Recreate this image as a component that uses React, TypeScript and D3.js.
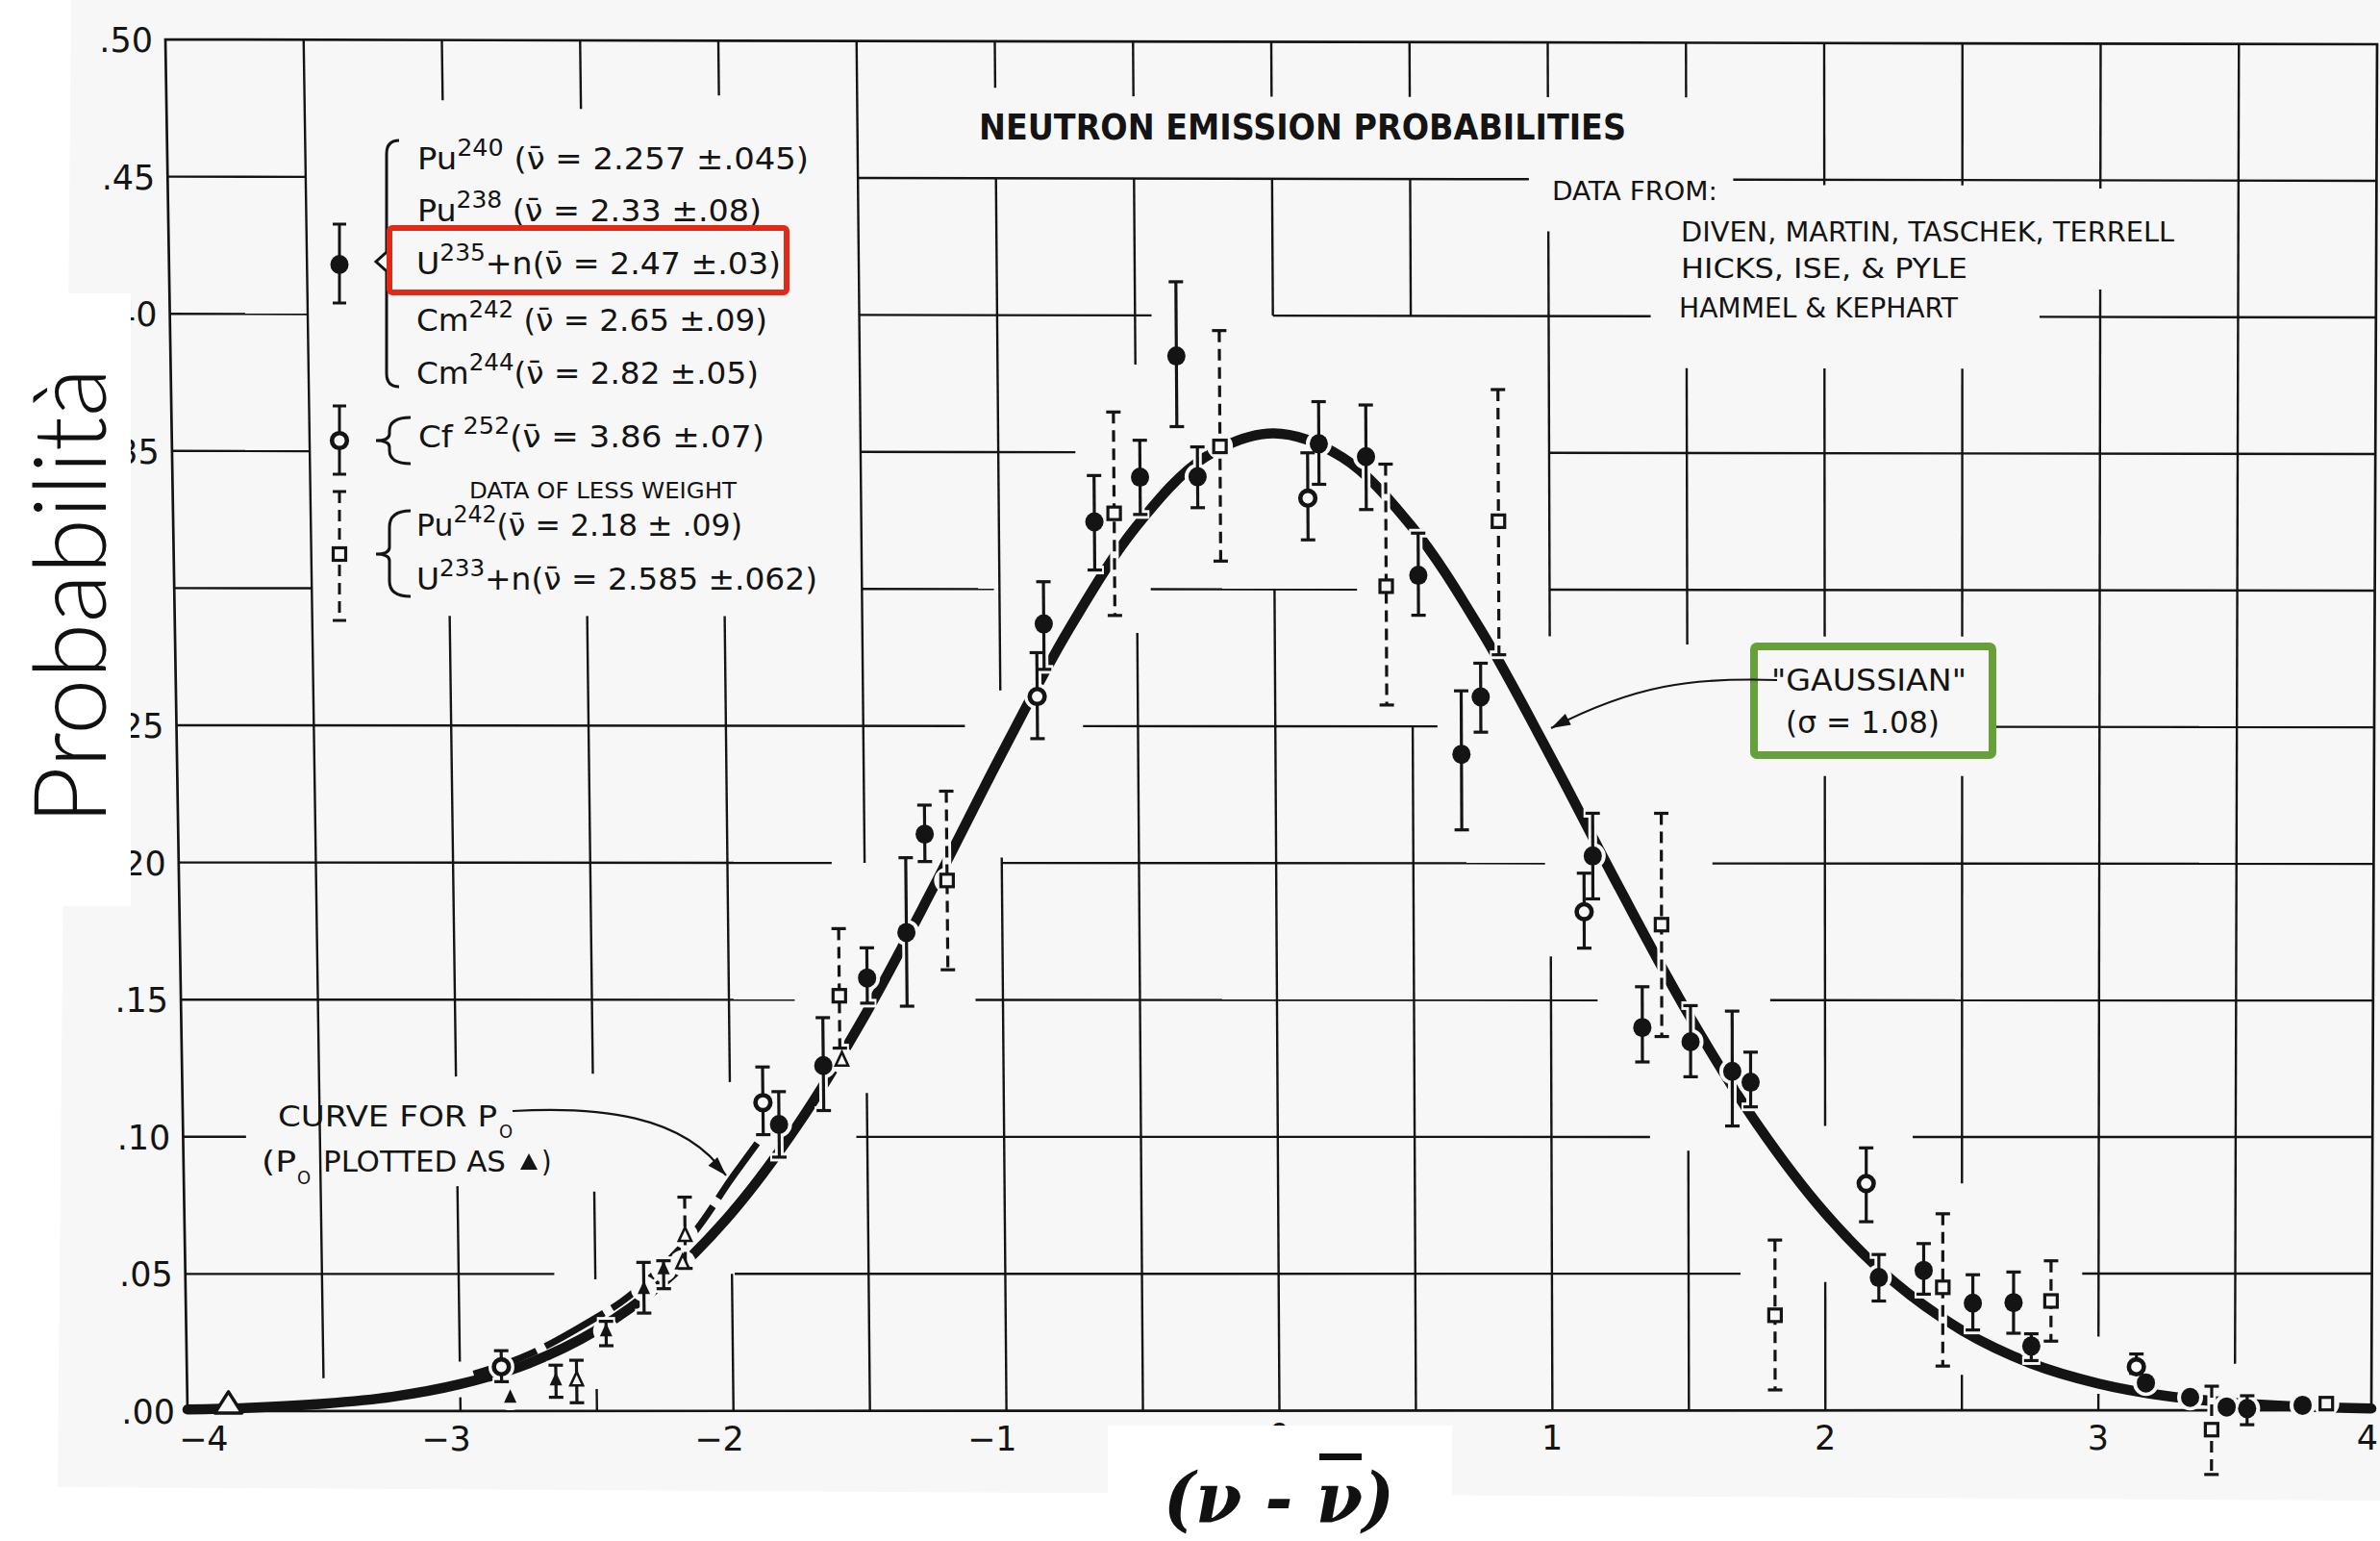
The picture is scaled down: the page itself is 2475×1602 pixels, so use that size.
import React from "react";
import * as d3 from "d3";

const W = 2475;
const H = 1602;
const PAPER = "#f7f7f7";
const INK = "#141414";

// ---------- data ----------
const curveX = [-4, -3.75, -3.5, -3.25, -3, -2.75, -2.5, -2.25, -2, -1.75, -1.5, -1.25, -1, -0.75, -0.5, -0.25, 0, 0.25, 0.5, 0.75, 1, 1.25, 1.5, 1.75, 2, 2.25, 2.5, 2.75, 3, 3.25, 3.5, 3.75, 4];
const gaussianY = [0.0006, 0.0013, 0.0027, 0.0052, 0.0098, 0.0173, 0.0293, 0.0471, 0.0721, 0.1049, 0.1451, 0.1911, 0.2393, 0.2851, 0.323, 0.3482, 0.357, 0.3482, 0.323, 0.2851, 0.2393, 0.1911, 0.1451, 0.1049, 0.0721, 0.0471, 0.0293, 0.0173, 0.0098, 0.0052, 0.0027, 0.0013, 0.0006];

const p0CurveX = [-2.95, -2.75, -2.5, -2.38, -2.15, -2.0, -1.9];
const p0CurveY = [0.0135, 0.0205, 0.034, 0.0417, 0.0635, 0.0845, 0.098];

// [x, y, low, high]
const heavyPoints = [
  [-1.822, 0.1045, 0.0926, 0.1165],
  [-1.658, 0.126, 0.1096, 0.1435],
  [-1.495, 0.158, 0.1488, 0.169],
  [-1.35, 0.1746, 0.1477, 0.2019],
  [-1.28, 0.2105, 0.2005, 0.2211],
  [-0.84, 0.2873, 0.2707, 0.3027],
  [-0.653, 0.3246, 0.307, 0.3415],
  [-0.486, 0.3409, 0.3273, 0.3544],
  [-0.351, 0.3852, 0.3594, 0.4123],
  [-0.277, 0.3411, 0.3298, 0.352],
  [0.164, 0.3532, 0.3384, 0.3686],
  [0.335, 0.3485, 0.3292, 0.3674],
  [0.523, 0.3052, 0.2906, 0.3206],
  [0.677, 0.2398, 0.2122, 0.263],
  [0.748, 0.2608, 0.2479, 0.2731],
  [1.154, 0.2027, 0.187, 0.2183],
  [1.333, 0.14, 0.1274, 0.1549],
  [1.509, 0.1348, 0.122, 0.148],
  [1.661, 0.124, 0.104, 0.146],
  [1.728, 0.12, 0.111, 0.131],
  [2.196, 0.0486, 0.04, 0.057],
  [2.36, 0.0512, 0.0425, 0.061],
  [2.54, 0.0392, 0.0294, 0.0496],
  [2.689, 0.0394, 0.0282, 0.0506],
  [2.754, 0.0235, 0.0182, 0.028],
  [3.174, 0.01, null, null],
  [3.336, 0.0047, null, null],
  [3.47, 0.0012, null, null],
  [3.545, 0.0006, -0.0053, 0.0053],
  [3.748, 0.0018, null, null],
];

const cfPoints = [
  [-2.848, 0.0161, 0.0107, 0.022],
  [-1.88, 0.1125, 0.1008, 0.1255],
  [-0.866, 0.2608, 0.2454, 0.2768],
  [0.123, 0.3333, 0.3181, 0.3499],
  [1.122, 0.1823, 0.169, 0.1964],
  [2.15, 0.083, 0.069, 0.096],
  [3.139, 0.0159, 0.0135, 0.0206],
];

const lessWeightPoints = [
  [-1.597, 0.1515, 0.1324, 0.176],
  [-1.2, 0.1936, 0.161, 0.2262],
  [-0.581, 0.3277, 0.2904, 0.3647],
  [-0.195, 0.3522, 0.3103, 0.3945],
  [0.406, 0.3012, 0.2578, 0.3458],
  [0.815, 0.325, 0.2762, 0.3731],
  [1.404, 0.1776, 0.1367, 0.2183],
  [1.816, 0.0348, 0.0075, 0.0623],
  [2.43, 0.045, 0.0162, 0.0719],
  [2.826, 0.04, 0.0253, 0.0547],
  [3.415, -0.0071, -0.0235, 0.0088],
  [3.835, 0.0024, null, null],
];

const p0FilledPoints = [
  [-2.817, 0.005, null, null],
  [-2.649, 0.0113, 0.005, 0.0167],
  [-2.463, 0.0292, 0.0238, 0.0327],
  [-2.323, 0.0446, 0.0357, 0.0542],
  [-2.25, 0.0518, 0.0446, 0.0548],
];
const p0OpenPoints = [
  [-2.573, 0.0113, 0.003, 0.0185],
  [-2.18, 0.054, null, null],
  [-1.59, 0.128, null, null],
];
const p0OpenLessWeight = [[-2.17, 0.064, 0.052, 0.078]];
const p0BigPoints = [[-3.85, 0.001]];

const xTicks = [-4, -3, -2, -1, 0, 1, 2, 3, 4];
const xTickLabels = ["−4", "−3", "−2", "−1", "0", "1", "2", "3", "4"];
const yTicks = [0, 0.05, 0.1, 0.15, 0.2, 0.25, 0.35, 0.4, 0.45, 0.5];
const yTickLabels = [".00", ".05", ".10", ".15", ".20", ".25", ".35", ".40", ".45", ".50"];

// graph-paper rulings (where the lines are drawn, in data units)
const gridVertical: [number, number[][]][] = [
  [-3.5, [[0.012, 0.5]]],
  [-3, [[0.478, 0.5], [0.122, 0.29], [0.018, 0.082], [0, 0.005]]],
  [-2.5, [[0.475, 0.5], [0.123, 0.29], [0.048, 0.08], [0, 0.008]]],
  [-2, [[0.48, 0.5], [0.12, 0.29], [0, 0.05]]],
  [-1.5, [[0.2, 0.5], [0, 0.116]]],
  [-1, [[0.483, 0.5], [0.263, 0.45], [0, 0.202]]],
  [-0.5, [[0.48, 0.5], [0.382, 0.45], [0, 0.284]]],
  [0, [[0.48, 0.5], [0.4, 0.45], [0, 0.3]]],
  [0.5, [[0.48, 0.5], [0.4, 0.45], [0, 0.25]]],
  [1, [[0.48, 0.5], [0.283, 0.431], [0, 0.166]]],
  [1.5, [[0.48, 0.5], [0.28, 0.381], [0, 0.095]]],
  [2, [[0.448, 0.5], [0.283, 0.381], [0.104, 0.232], [0, 0.047]]],
  [2.5, [[0.448, 0.5], [0.283, 0.381], [0.083, 0.232], [0, 0.013]]],
  [3, [[0.447, 0.5], [0.027, 0.41], [0, 0.006]]],
  [3.5, [[0.017, 0.5]]],
];
const gridHorizontal: [number, number[][]][] = [
  [0.45, [[-4, -3.5], [-1.5, 0.93], [1.67, 4]]],
  [0.4, [[-4, -3.5], [-1.5, -0.44], [0, 1.37], [2.78, 4]]],
  [0.35, [[-4, -3.5], [-1.5, -0.72], [1.0, 4]]],
  [0.3, [[-4, -3.5], [-1.5, -1.02], [-0.45, 0.3], [1.0, 4]]],
  [0.25, [[-4, -1.13], [-0.7, 0.59], [2.62, 4]]],
  [0.2, [[-4, -1.62], [-1.0, 0.98], [1.59, 4]]],
  [0.15, [[-4, -1.76], [-1.1, 1.17], [1.8, 4]]],
  [0.1, [[-4, -3.77], [-1.54, 1.36], [2.32, 4]]],
  [0.05, [[-4, -2.65], [-1.99, 1.69], [2.94, 4]]],
];

// ---------- scales (with the slight keystone of the scan) ----------
const fx = d3.scaleLinear().domain([-4, 4]).range([0, 1]);
const fy = d3.scaleLinear().domain([0.5, 0]).range([0, 1]);
const TL = [172, 41];
const TR = [2472, 46];
const BL = [195, 1467];
const BR = [2466, 1466];
function P(u: number, v: number): [number, number] {
  const a = fx(u);
  const b = fy(v);
  const x = (1 - b) * ((1 - a) * TL[0] + a * TR[0]) + b * ((1 - a) * BL[0] + a * BR[0]);
  const y = (1 - b) * ((1 - a) * TL[1] + a * TR[1]) + b * ((1 - a) * BL[1] + a * BR[1]);
  return [x, y];
}

const lineGen = d3
  .line<[number, number]>()
  .x((d) => P(d[0], d[1])[0])
  .y((d) => P(d[0], d[1])[1])
  .curve(d3.curveCatmullRom.alpha(0.5));

function arrowHead(tip: number[], from: number[], len = 20, half = 6.5) {
  const dx = tip[0] - from[0];
  const dy = tip[1] - from[1];
  const n = Math.hypot(dx, dy);
  const ux = dx / n, uy = dy / n;
  const bx = tip[0] - ux * len, by = tip[1] - uy * len;
  return `${tip[0]},${tip[1]} ${bx - uy * half},${by + ux * half} ${bx + uy * half},${by - ux * half}`;
}

function Bar({ x, lo, hi, dashed, halo }: any) {
  if (lo === null || lo === undefined) return null;
  const [x1, y1] = P(x, hi);
  const [x2, y2] = P(x, lo);
  const c = 7.5;
  if (halo) {
    return (
      <g stroke={PAPER} strokeWidth={9}>
        <line x1={x1} y1={y1} x2={x2} y2={y2} />
        <line x1={x1 - c - 2} y1={y1} x2={x1 + c + 2} y2={y1} />
        <line x1={x2 - c - 2} y1={y2} x2={x2 + c + 2} y2={y2} />
      </g>
    );
  }
  return (
    <g stroke={INK} strokeWidth={3.2}>
      <line x1={x1} y1={y1} x2={x2} y2={y2} strokeDasharray={dashed ? "12 7" : undefined} />
      <line x1={x1 - c} y1={y1} x2={x1 + c} y2={y1} />
      <line x1={x2 - c} y1={y2} x2={x2 + c} y2={y2} />
    </g>
  );
}

function tri(cx: number, cy: number, s: number, h: number) {
  return `${cx},${cy - h * 0.6} ${cx - s / 2},${cy + h * 0.4} ${cx + s / 2},${cy + h * 0.4}`;
}

function Iso({ x, y, el, mass, rest, len }: any) {
  return (
    <text x={x} y={y} fontSize={32} textLength={len} lengthAdjust="spacingAndGlyphs">
      {el}
      <tspan dy={-14} fontSize={24}>{mass}</tspan>
      <tspan dy={14}>{rest}</tspan>
    </text>
  );
}

const NU = "\u03BD\u0304";

export default function App() {
  const all = [
    ...heavyPoints.map((p) => ({ p, kind: "heavy" })),
    ...cfPoints.map((p) => ({ p, kind: "cf" })),
    ...lessWeightPoints.map((p) => ({ p, kind: "less" })),
    ...p0FilledPoints.map((p) => ({ p, kind: "p0f" })),
    ...p0OpenPoints.map((p) => ({ p, kind: "p0o" })),
    ...p0OpenLessWeight.map((p) => ({ p, kind: "p0od" })),
  ];

  const gaussPath = lineGen(curveX.map((x, i) => [x, gaussianY[i]] as [number, number])) || "";
  const p0Path = lineGen(p0CurveX.map((x, i) => [x, p0CurveY[i]] as [number, number])) || "";

  const gaussArrowFrom = [1700, 712];
  const gaussArrowTip = [1613, 757];
  const p0ArrowFrom = [712, 1176];
  const p0ArrowTip = [755, 1222];

  const lineFont = "'Liberation Sans Narrow', 'DejaVu Sans Condensed', 'Liberation Sans', sans-serif";

  return (
    <svg width={W} height={H} viewBox={`0 0 ${W} ${H}`} style={{ position: "absolute", left: 0, top: 0, display: "block", background: "#ffffff" }}>
      <rect x={0} y={0} width={W} height={H} fill="#ffffff" />
      <polygon points={`74,0 ${W},0 ${W},1560 60,1546`} fill={PAPER} />

      {/* grid */}
      <g stroke={INK} strokeWidth={2.4} fill="none">
        {gridVertical.map(([u, segs]) =>
          segs.map((s, j) => {
            const a = P(u, s[0]);
            const b = P(u, s[1]);
            return <line key={`v${u}-${j}`} x1={a[0]} y1={a[1]} x2={b[0]} y2={b[1]} />;
          })
        )}
        {gridHorizontal.map(([v, segs]) =>
          segs.map((s, j) => {
            const a = P(s[0], v);
            const b = P(s[1], v);
            return <line key={`h${v}-${j}`} x1={a[0]} y1={a[1]} x2={b[0]} y2={b[1]} />;
          })
        )}
        <polygon points={[P(-4, 0.5), P(4, 0.5), P(4, 0), P(-4, 0)].map((p) => p.join(",")).join(" ")} strokeWidth={2.7} />
      </g>

      {/* tick labels */}
      <g fontFamily="'DejaVu Sans', sans-serif" fontSize={35} fill={INK}>
        {yTicks.map((v, i) => {
          const [x, y] = P(-4, v);
          return (
            <text key={`yl${i}`} x={x - 13} y={y + 13} textAnchor="end">
              {yTickLabels[i]}
            </text>
          );
        })}
        {xTicks.map((u, i) => {
          const [x, y] = P(u, 0);
          const first = i === 0;
          const last = i === xTicks.length - 1;
          return (
            <text
              key={`xl${i}`}
              x={first ? x - 9 : last ? W - 2 : x + 11}
              y={y + (u === 0 ? 38 : 41)}
              textAnchor={first ? "start" : "end"}
            >
              {xTickLabels[i]}
            </text>
          );
        })}
      </g>

      {/* curves */}
      <path d={gaussPath} fill="none" stroke={INK} strokeWidth={10.5} strokeLinecap="round" />
      <path d={p0Path} fill="none" stroke={INK} strokeWidth={7} strokeDasharray="70 10" />

      {/* halos that break the curve round the points */}
      {all.map(({ p }, i) => (
        <Bar key={`hb${i}`} x={p[0]} lo={p[2]} hi={p[3]} halo />
      ))}
      {all.map(({ p }, i) => {
        const [cx, cy] = P(p[0], p[1]);
        return <circle key={`hc${i}`} cx={cx} cy={cy} r={13.5} fill={PAPER} />;
      })}

      {/* error bars and markers */}
      {all.map(({ p, kind }, i) => (
        <Bar key={`b${i}`} x={p[0]} lo={p[2]} hi={p[3]} dashed={kind === "less" || kind === "p0od"} />
      ))}
      {all.map(({ p, kind }, i) => {
        const [cx, cy] = P(p[0], p[1]);
        if (kind === "heavy") return <ellipse key={`m${i}`} cx={cx} cy={cy} rx={9.5} ry={10} fill={INK} />;
        if (kind === "cf") return <circle key={`m${i}`} cx={cx} cy={cy} r={7.8} fill={PAPER} stroke={INK} strokeWidth={4.6} />;
        if (kind === "less") return <rect key={`m${i}`} x={cx - 6.5} y={cy - 6.5} width={13} height={13} fill={PAPER} stroke={INK} strokeWidth={3.2} />;
        if (kind === "p0f") return <polygon key={`m${i}`} points={tri(cx, cy, 13, 14)} fill={INK} />;
        return <polygon key={`m${i}`} points={tri(cx, cy, 13, 14)} fill={PAPER} stroke={INK} strokeWidth={2.6} />;
      })}
      {p0BigPoints.map((p, i) => {
        const [cx, cy] = P(p[0], p[1]);
        return <polygon key={`big${i}`} points={tri(cx, cy - 4, 28, 22)} fill={PAPER} stroke={INK} strokeWidth={3.5} strokeLinejoin="round" />;
      })}

      {/* title & source note */}
      <g fontFamily={lineFont} fill={INK}>
        <text x={1018} y={145} fontSize={38} fontWeight="bold" textLength={673} lengthAdjust="spacingAndGlyphs">NEUTRON EMISSION PROBABILITIES</text>
        <text x={1614} y={208} fontSize={26} textLength={172} lengthAdjust="spacingAndGlyphs">DATA FROM:</text>
        <text x={1748} y={251} fontSize={28} textLength={513} lengthAdjust="spacingAndGlyphs">DIVEN, MARTIN, TASCHEK, TERRELL</text>
        <text x={1748} y={289} fontSize={28} textLength={298} lengthAdjust="spacingAndGlyphs">HICKS, ISE, &amp; PYLE</text>
        <text x={1746} y={330} fontSize={28} textLength={290} lengthAdjust="spacingAndGlyphs">HAMMEL &amp; KEPHART</text>
      </g>

      {/* legend */}
      <g fontFamily={lineFont} fill={INK}>
        <Iso x={434} y={176} el="Pu" mass="240" rest={` (${NU} = 2.257 ±.045)`} len={407} />
        <Iso x={434} y={230} el="Pu" mass="238" rest={` (${NU} = 2.33 ±.08)`} len={358} />
        <Iso x={433} y={285} el="U" mass="235" rest={`+n(${NU} = 2.47 ±.03)`} len={379} />
        <Iso x={433} y={344} el="Cm" mass="242" rest={` (${NU} = 2.65 ±.09)`} len={365} />
        <Iso x={433} y={399} el="Cm" mass="244" rest={`(${NU} = 2.82 ±.05)`} len={356} />
        <Iso x={435} y={465} el="Cf " mass="252" rest={`(${NU} = 3.86 ±.07)`} len={360} />
        <text x={488} y={518} fontSize={23} textLength={278} lengthAdjust="spacingAndGlyphs">DATA OF LESS WEIGHT</text>
        <Iso x={433} y={557} el="Pu" mass="242" rest={`(${NU} = 2.18 ± .09)`} len={339} />
        <Iso x={433} y={613} el="U" mass="233" rest={`+n(${NU} = 2.585 ±.062)`} len={417} />
      </g>
      <g stroke={INK} strokeWidth={3} fill="none">
        <path d="M 415 146 Q 402 146 402 160 L 402 262 L 391 272 L 402 282 L 402 388 Q 402 402 415 402" />
        <path d="M 427 434 Q 405 434 405 448 L 405 451 Q 405 458 391 458 Q 405 458 405 465 L 405 468 Q 405 482 427 482" />
        <path d="M 427 531 Q 405 531 405 548 L 405 569 Q 405 576 391 576 Q 405 576 405 583 L 405 604 Q 405 620 427 620" />
        <line x1={353} y1={233} x2={353} y2={315} />
        <line x1={346} y1={233} x2={360} y2={233} />
        <line x1={346} y1={315} x2={360} y2={315} />
        <line x1={353} y1={422} x2={353} y2={493} />
        <line x1={346} y1={422} x2={360} y2={422} />
        <line x1={346} y1={493} x2={360} y2={493} />
        <line x1={353} y1={511} x2={353} y2={645} strokeDasharray="12 7" />
        <line x1={346} y1={511} x2={360} y2={511} />
        <line x1={346} y1={645} x2={360} y2={645} />
      </g>
      <ellipse cx={353} cy={275} rx={9.5} ry={10} fill={INK} />
      <circle cx={353} cy={458} r={7.8} fill={PAPER} stroke={INK} strokeWidth={4.6} />
      <rect x={346.5} y={569.5} width={13} height={13} fill={PAPER} stroke={INK} strokeWidth={3.2} />
      <rect x={405} y={237} width={413} height={67} rx={3} fill="none" stroke="#e02a18" strokeWidth={6} />

      {/* curve for P0 note */}
      <g fontFamily={lineFont} fill={INK}>
        <text x={289} y={1171} fontSize={30} textLength={228} lengthAdjust="spacingAndGlyphs">CURVE FOR P</text>
        <text x={519} y={1183} fontSize={20}>O</text>
        <text x={272} y={1218} fontSize={30} textLength={36} lengthAdjust="spacingAndGlyphs">(P</text>
        <text x={309} y={1231} fontSize={20}>O</text>
        <text x={336} y={1218} fontSize={30} textLength={190} lengthAdjust="spacingAndGlyphs">PLOTTED AS</text>
        <polygon points="541,1216 550,1199 559,1216" fill={INK} />
        <text x={563} y={1218} fontSize={30}>)</text>
      </g>
      <path d={`M 533 1155 C 620 1150, ${p0ArrowFrom[0]} ${p0ArrowFrom[1] - 18}, ${p0ArrowTip[0]} ${p0ArrowTip[1]}`} fill="none" stroke={INK} strokeWidth={2.2} />
      <polygon points={arrowHead(p0ArrowTip, p0ArrowFrom)} fill={INK} />

      {/* Gaussian note */}
      <rect x={1824} y={672} width={248} height={113} rx={3} fill={PAPER} stroke="#67a03b" strokeWidth={8} />
      <path d={`M 1848 707 C 1760 704, ${gaussArrowFrom[0]} ${gaussArrowFrom[1]}, ${gaussArrowTip[0]} ${gaussArrowTip[1]}`} fill="none" stroke={INK} strokeWidth={2.2} />
      <polygon points={arrowHead(gaussArrowTip, gaussArrowFrom)} fill={INK} />
      <g fontFamily="'DejaVu Sans', sans-serif" fill={INK}>
        <text x={1842} y={718} fontSize={32} textLength={203} lengthAdjust="spacingAndGlyphs">"GAUSSIAN"</text>
        <text x={1857} y={762} fontSize={32} textLength={160} lengthAdjust="spacingAndGlyphs">(σ = 1.08)</text>
      </g>

      {/* axis titles on white patches */}
      <rect x={0} y={305} width={136} height={637} fill="#ffffff" />
      <text transform="translate(110,620) rotate(-90)" textAnchor="middle" fontFamily="Lato, 'Open Sans', sans-serif" fontWeight={300} fontSize={104} textLength={475} lengthAdjust="spacingAndGlyphs" fill="#111">
        Probabilità
      </text>
      <rect x={1152} y={1482} width={358} height={120} fill="#ffffff" />
      <text x={1210} y={1583} fontFamily="'DejaVu Serif', serif" fontWeight="bold" fontStyle="italic" fontSize={72} textLength={240} lengthAdjust="spacingAndGlyphs" fill="#111">
        (ν - ν)
      </text>
      <rect x={1372} y={1511} width={44} height={7} fill="#111" />
    </svg>
  );
}
